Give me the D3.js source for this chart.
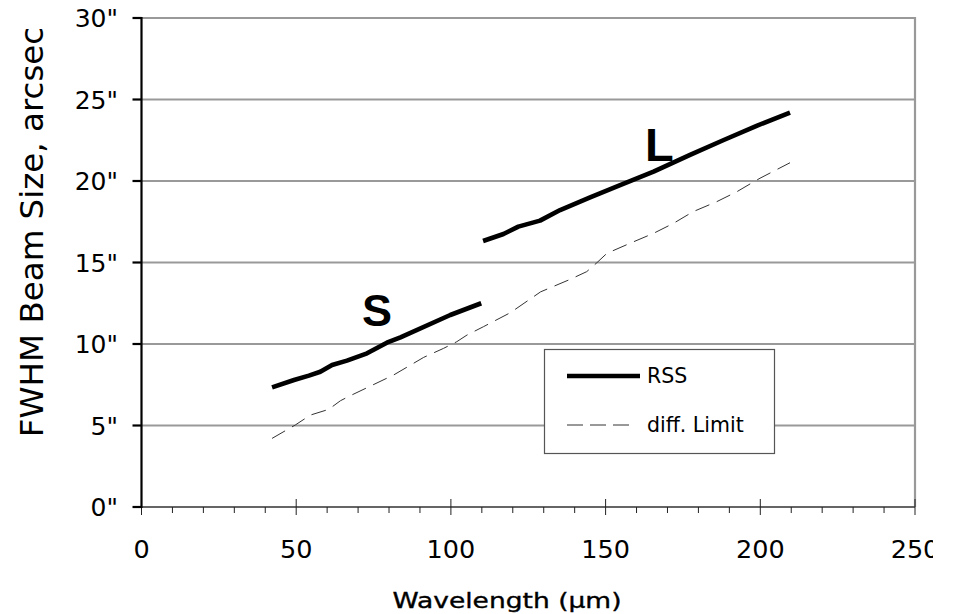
<!DOCTYPE html>
<html>
<head>
<meta charset="utf-8">
<script src="https://cdn.jsdelivr.net/npm/d3@7/dist/d3.min.js"></script>
<style>
  html, body { margin: 0; padding: 0; background: #fff; }
  svg { display: block; overflow: hidden; }
</style>
</head>
<body>
<svg id="chart" width="933" height="614"></svg>
<script>
// ---- data ----
const rssShortX = [42.2, 49.3, 54.1, 57.8, 61.6, 66.4, 72.9, 79.3, 83.7, 99.8, 109.8];
const rssShortY = [7.34, 7.79, 8.06, 8.30, 8.71, 8.98, 9.43, 10.08, 10.41, 11.78, 12.50];
const rssLongX = [110.4, 117, 121.8, 128.8, 135.3, 145, 154.7, 165.5, 177.3, 188, 199, 209.6];
const rssLongY = [16.32, 16.75, 17.2, 17.57, 18.22, 19.0, 19.75, 20.57, 21.6, 22.5, 23.4, 24.2];
const diffX = [42.2, 49.7, 54.6, 60.5, 64.3, 67.5, 74, 81.5, 91.2, 97.6, 101.9, 105.2, 110.5, 119.2, 129, 138.6, 143.9, 147.2, 150.4, 157.9, 165.5, 171.9, 178.3, 185.9, 192.4, 196.7, 199.9, 209.6];
const diffY = [4.21, 5.03, 5.64, 5.99, 6.52, 6.83, 7.42, 8.1, 9.18, 9.73, 10.14, 10.55, 11.06, 11.92, 13.2, 13.97, 14.44, 14.99, 15.56, 16.18, 16.79, 17.4, 18.12, 18.73, 19.34, 19.82, 20.17, 21.12];
const xTicks = [0, 50, 100, 150, 200, 250];
const xMinorTicks = d3.range(0, 251, 10);
const yTicks = [0, 5, 10, 15, 20, 25, 30];
const yTickLabels = ['0"', '5"', '10"', '15"', '20"', '25"', '30"'];
const seriesNames = ["RSS", "diff. Limit"];
const bandLabels = ["S", "L"];
const xTitle = "Wavelength (\u00b5m)";
const yTitle = "FWHM Beam Size, arcsec";

// ---- layout ----
const L = 141.5, R = 915, T = 18, B = 507;
const svg = d3.select("#chart");
const x = d3.scaleLinear().domain([0, 250]).range([L, R]);
const y = d3.scaleLinear().domain([0, 30]).range([B, T]);
const font = "'DejaVu Sans', Verdana, sans-serif";

// gridlines
svg.append("g").selectAll("line").data(yTicks).join("line")
  .attr("x1", L).attr("x2", R)
  .attr("y1", d => y(d)).attr("y2", d => y(d))
  .attr("stroke", "#999").attr("stroke-width", 2.2);
// right border
svg.append("line").attr("x1", R).attr("x2", R).attr("y1", T - 1).attr("y2", B)
  .attr("stroke", "#999").attr("stroke-width", 2.2);

// x axis
const xAxisG = svg.append("g").attr("transform", `translate(0,${B})`);
xAxisG.append("line").attr("x1", L).attr("x2", R).attr("y1", 0).attr("y2", 0)
  .attr("stroke", "#333").attr("stroke-width", 1.2);
xAxisG.selectAll("line.minor").data(xMinorTicks.filter(d => d % 50 !== 0)).join("line")
  .attr("class", "minor")
  .attr("x1", d => x(d)).attr("x2", d => x(d)).attr("y1", 0).attr("y2", 6)
  .attr("stroke", "#222").attr("stroke-width", 1);
xAxisG.selectAll("line.major").data(xTicks).join("line")
  .attr("class", "major")
  .attr("x1", d => x(d)).attr("x2", d => x(d)).attr("y1", -8).attr("y2", 8)
  .attr("stroke", "#222").attr("stroke-width", 1);
xAxisG.selectAll("text").data(xTicks).join("text")
  .attr("x", d => x(d)).attr("y", 51)
  .attr("text-anchor", "middle")
  .attr("font-family", font).attr("font-size", 25.5).attr("fill", "#000")
  .text(d => d);

// y axis
const yAxisG = svg.append("g");
yAxisG.append("line").attr("x1", L).attr("x2", L).attr("y1", T - 1).attr("y2", B + 1)
  .attr("stroke", "#000").attr("stroke-width", 2.2);
yAxisG.selectAll("line.tick").data(yTicks).join("line")
  .attr("class", "tick")
  .attr("x1", L - 9).attr("x2", L).attr("y1", d => y(d)).attr("y2", d => y(d))
  .attr("stroke", "#000").attr("stroke-width", 2.2);
yAxisG.selectAll("text").data(yTicks).join("text")
  .attr("x", 118).attr("y", d => y(d) + 9)
  .attr("text-anchor", "end")
  .attr("font-family", font).attr("font-size", 25).attr("fill", "#000")
  .text((d, i) => yTickLabels[i]);

// titles
svg.append("text")
  .attr("x", 507).attr("y", 608)
  .attr("text-anchor", "middle")
  .attr("font-family", font).attr("font-size", 21).attr("fill", "#000")
  .attr("textLength", 229).attr("lengthAdjust", "spacingAndGlyphs")
  .attr("stroke", "#000").attr("stroke-width", 0.35)
  .text(xTitle);
svg.append("text")
  .attr("transform", "translate(43,232) rotate(-90)")
  .attr("text-anchor", "middle")
  .attr("font-family", font).attr("font-size", 32.5).attr("fill", "#000")
  .text(yTitle);

// lines
const line = d3.line().x(d => x(d[0])).y(d => y(d[1]));
const diffPts = diffX.map((v, i) => [v, diffY[i]]);
svg.append("path").datum(diffPts).attr("d", line)
  .attr("fill", "none").attr("stroke", "#333").attr("stroke-width", 1)
  .attr("stroke-dasharray", "15,8");
[[rssShortX, rssShortY], [rssLongX, rssLongY]].forEach(([xs, ys]) => {
  svg.append("path").datum(xs.map((v, i) => [v, ys[i]])).attr("d", line)
    .attr("fill", "none").attr("stroke", "#000").attr("stroke-width", 4.6)
    .attr("stroke-linejoin", "round");
});

// band labels
svg.append("text").attr("x", 362).attr("y", 326)
  .attr("font-family", "'Liberation Sans', Arial, sans-serif").attr("font-weight", "bold")
  .attr("font-size", 45).text(bandLabels[0]);
svg.append("text").attr("x", 645).attr("y", 161)
  .attr("font-family", "'Liberation Sans', Arial, sans-serif").attr("font-weight", "bold")
  .attr("font-size", 47).text(bandLabels[1]);

// legend
const lg = svg.append("g");
lg.append("rect").attr("x", 544.5).attr("y", 349.5).attr("width", 230).attr("height", 104)
  .attr("fill", "#fff").attr("stroke", "#555").attr("stroke-width", 1.2);
lg.append("line").attr("x1", 567).attr("x2", 640).attr("y1", 376).attr("y2", 376)
  .attr("stroke", "#000").attr("stroke-width", 4.6);
lg.append("line").attr("x1", 567).attr("x2", 630).attr("y1", 425).attr("y2", 425)
  .attr("stroke", "#333").attr("stroke-width", 1).attr("stroke-dasharray", "16,7");
lg.append("text").attr("x", 647).attr("y", 383)
  .attr("font-family", font).attr("font-size", 20.5).text(seriesNames[0]);
lg.append("text").attr("x", 647).attr("y", 432)
  .attr("font-family", font).attr("font-size", 20.5).text(seriesNames[1]);
</script>
</body>
</html>
